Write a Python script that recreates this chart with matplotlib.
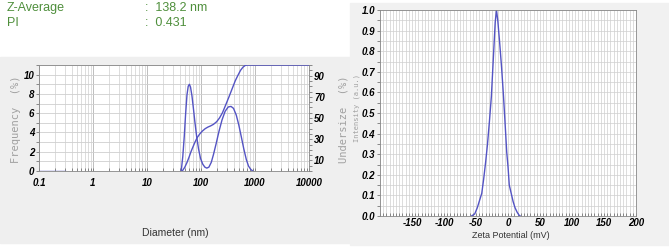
import matplotlib
matplotlib.use("Agg")
import matplotlib.pyplot as plt
from matplotlib.patches import Rectangle
from matplotlib.ticker import MultipleLocator, LogLocator, NullFormatter
import numpy as np

# size distribution (nm, %)
freq_d = [43, 46, 49, 52, 55, 58, 61, 64, 68, 72, 77, 83, 90, 98, 108, 118, 128,
          140, 155, 170, 190, 215, 245, 280, 320, 360, 400, 450, 500, 560, 620, 690, 760, 840, 910]
freq_v = [0.0, 1.5, 3.6, 6.0, 7.9, 8.8, 9.0, 8.7, 7.8, 6.6, 5.1, 3.6, 2.3, 1.3, 0.7, 0.4, 0.3,
          0.4, 0.9, 1.7, 2.8, 4.1, 5.3, 6.2, 6.65, 6.7, 6.5, 5.8, 4.8, 3.5, 2.3, 1.2, 0.5, 0.15, 0.0]
base_d = [0.1, 0.3]
base_v = [0.0, 0.0]
under_d = [45, 50, 55, 60, 65, 70, 77, 85, 95, 105, 120, 135, 150, 170, 195, 220, 250,
           285, 330, 380, 430, 480, 540, 600, 660, 720, 10000]
under_v = [0, 3.5, 8, 13, 18, 22, 27, 31.5, 35, 37.5, 40, 41.5, 42.5, 44, 46.5, 50, 55,
           62, 70, 78, 85, 90, 95, 98, 99.6, 100, 100]

# zeta potential distribution (mV, a.u.)
zeta_x = [-57, -52, -48, -44, -41, -38, -35, -32, -29, -26, -23, -20, -18, -16, -13,
          -10, -7, -4, -2, 0, 2, 5, 8, 11, 14, 17, 19]
zeta_y = [0.0, 0.01, 0.04, 0.08, 0.11, 0.18, 0.26, 0.35, 0.46, 0.58, 0.76, 0.94, 1.0, 0.95, 0.84,
          0.72, 0.58, 0.42, 0.31, 0.24, 0.15, 0.11, 0.07, 0.04, 0.02, 0.005, 0.0]

size_ticks = [0.1, 1, 10, 100, 1000, 10000]
size_labels = ["0.1", "1", "10", "100", "1000", "10000"]

line_c = "#5454c4"
grid_c = "#cfcfcf"
panel_c = "#efefef"
tick_font = dict(family="Liberation Sans", style="italic", weight="bold", size=7)

fig = plt.figure(figsize=(6.69, 2.49), dpi=100)
W, H = 669, 249

def fx(px):
    return px / W

def fy(py):
    return 1 - py / H

# grey panels
fig.patches.append(Rectangle((0, fy(243)), fx(352), fy(57) - fy(243),
                             transform=fig.transFigure, color=panel_c, zorder=-10))
fig.patches.append(Rectangle((fx(350), fy(245)), 1 - fx(350), fy(3) - fy(245),
                             transform=fig.transFigure, color="#f1f1f1", zorder=-10))

# header text
green = "#4f8f3c"
fig.text(fx(7), fy(8), "Z-Average", color=green, fontsize=9, va="center", family="Liberation Sans")
fig.text(fx(7), fy(23), "PI", color=green, fontsize=9, va="center", family="Liberation Sans")
fig.text(fx(145), fy(8), ":  138.2 nm", color=green, fontsize=9, va="center", family="Liberation Sans")
fig.text(fx(145), fy(23), ":  0.431", color=green, fontsize=9, va="center", family="Liberation Sans")

# ---- size distribution ----
ax = fig.add_axes([fx(39), fy(171), fx(309 - 39), fy(65) - fy(171)])
ax.set_facecolor("white")
ax.set_xscale("log")
ax.set_xlim(0.1, 10000)
ax.set_ylim(0, 11)
ax.plot(base_d, base_v, color=line_c, lw=1)
ax.plot(freq_d, freq_v, color=line_c, lw=1)
ax.set_xticks(size_ticks)
ax.set_xticklabels(size_labels, **tick_font)
ax.xaxis.set_minor_locator(LogLocator(base=10, subs=np.arange(2, 10)))
ax.xaxis.set_minor_formatter(NullFormatter())
ax.set_yticks([0, 2, 4, 6, 8, 10])
ax.set_yticklabels(["0", "2", "4", "6", "8", "10"], **tick_font)
ax.yaxis.set_minor_locator(MultipleLocator(1))
ax.grid(which="major", axis="x", color="#bdbdbd", lw=0.7)
ax.grid(which="minor", axis="x", color=grid_c, lw=0.5)
ax.grid(which="both", axis="y", color=grid_c, lw=0.6)
ax.tick_params(axis="x", which="both", direction="in", length=2.5, width=0.6, pad=5, color="#777777")
ax.tick_params(axis="y", which="both", length=2.5, width=0.6, pad=1, color="#777777")
for s in ax.spines.values():
    s.set_linewidth(0.6)
    s.set_color("#888888")
ax.set_axisbelow(True)

ax2 = ax.twinx()
ax2.set_ylim(0, 100)
ax2.plot(under_d, under_v, color=line_c, lw=1)
ax2.set_yticks([10, 30, 50, 70, 90])
ax2.set_yticklabels(["10", "30", "50", "70", "90"], **tick_font)
ax2.yaxis.set_minor_locator(MultipleLocator(5))
ax2.tick_params(axis="y", which="both", length=2.5, width=0.6, pad=1, color="#777777")
for s in ax2.spines.values():
    s.set_visible(False)

fig.text(fx(16), fy(119), "Frequency  (%)", rotation=90, ha="center", va="center",
         family="DejaVu Sans Mono", fontsize=7.5, color="#a0a0a0")
fig.text(fx(343), fy(119), "Undersize  (%)", rotation=90, ha="center", va="center",
         family="DejaVu Sans Mono", fontsize=7.5, color="#a0a0a0")
fig.text(fx(175), fy(233), "Diameter (nm)", ha="center", va="center",
         family="Liberation Sans", fontsize=7.5, color="#333333")

# ---- zeta potential ----
bx = fig.add_axes([fx(380), fy(216), fx(636 - 380), fy(10) - fy(216)])
bx.set_facecolor("white")
bx.set_xlim(-200, 200)
bx.set_ylim(0, 1.0)
bx.plot(zeta_x, zeta_y, color=line_c, lw=1)
bx.set_xticks([-150, -100, -50, 0, 50, 100, 150, 200])
bx.set_xticklabels(["-150", "-100", "-50", "0", "50", "100", "150", "200"], **tick_font)
bx.xaxis.set_minor_locator(MultipleLocator(5))
bx.set_yticks(np.round(np.arange(0, 1.01, 0.1), 1))
bx.set_yticklabels([f"{v:.1f}" for v in np.arange(0, 1.01, 0.1)], **tick_font)
bx.yaxis.set_minor_locator(MultipleLocator(0.05))
bx.grid(which="both", color=grid_c, lw=0.5)
bx.tick_params(axis="x", which="both", direction="in", length=2.5, width=0.6, pad=1.5, color="#777777")
bx.tick_params(axis="y", which="both", length=2.5, width=0.6, pad=1, color="#777777")
for s in bx.spines.values():
    s.set_linewidth(0.6)
    s.set_color("#888888")
bx.set_axisbelow(True)

fig.text(fx(357), fy(108), "Intensity (a.u.)", rotation=90, ha="center", va="center",
         family="DejaVu Sans Mono", fontsize=5, color="#a0a0a0")
fig.text(fx(511), fy(235), "Zeta Potential (mV)", ha="center", va="center",
         family="Liberation Sans", fontsize=6.5, color="#333333")

fig.savefig("out.png", dpi=100, facecolor="white")
